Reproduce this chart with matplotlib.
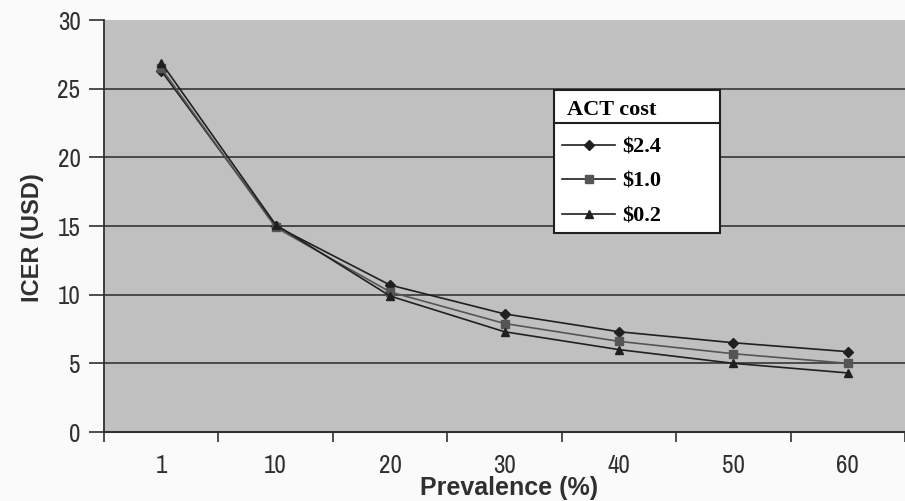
import matplotlib
matplotlib.use('Agg')
import matplotlib.pyplot as plt
from matplotlib.lines import Line2D
from matplotlib.patches import Rectangle
from matplotlib import font_manager
import numpy as np

# data
prevalence = ['1', '10', '20', '30', '40', '50', '60']
icer_24 = [26.3, 15.0, 10.7, 8.6, 7.3, 6.5, 5.85]
icer_10 = [26.5, 14.9, 10.2, 7.9, 6.6, 5.7, 5.0]
icer_02 = [26.9, 15.1, 9.9, 7.3, 6.0, 5.0, 4.3]
series_labels = ['$2.4', '$1.0', '$0.2']

names = sorted({f.name for f in font_manager.fontManager.ttflist})
narrow = [n for n in names if 'Narrow' in n or 'Condensed' in n]
tick_font = narrow[:1] + ['DejaVu Sans']
sans_font = ['Liberation Sans', 'DejaVu Sans']
serif_font = ['Liberation Serif', 'DejaVu Serif']
ink = '#303030'

W, H = 905, 501
fig = plt.figure(figsize=(W / 100, H / 100), dpi=100, facecolor='#fafafa')
ax = fig.add_axes([104 / W, 1 - 432 / H, 801 / W, 412 / H])
ax.set_facecolor('#c0c0c0')

x = np.arange(len(prevalence))
ax.plot(x, icer_24, color='#202020', lw=1.2, marker='D', ms=5, mfc='#202020', mec='#202020', label=series_labels[0])
ax.plot(x, icer_10, color='#555555', lw=1.2, marker='s', ms=6, mfc='#555555', mec='#555555', label=series_labels[1])
ax.plot(x, icer_02, color='#202020', lw=1.2, marker='^', ms=6, mfc='#202020', mec='#202020', label=series_labels[2])

ax.set_ylim(0, 30)
ax.set_xlim(-0.5, (W - 104) / 116.3 - 0.5)
ax.set_yticks(np.arange(0, 31, 5))
for yv in range(5, 30, 5):
    ax.axhline(yv, color='#404040', lw=1.3, zorder=0.5)

# category ticks between categories, labels centred
ax.set_xticks(np.arange(-0.5, 7, 1))
ax.set_xticklabels([])
ax.set_xticks(x, minor=True)
ax.set_xticklabels(prevalence, minor=True, family=tick_font, stretch='condensed', fontsize=18, color=ink)
ax.tick_params(axis='x', which='minor', length=0, pad=16)
ax.tick_params(axis='x', which='major', length=7, width=1.2, direction='out', color=ink)
ax.tick_params(axis='y', length=11, width=1.2, direction='out', color=ink, pad=6)
for lab in ax.get_yticklabels():
    lab.set_family(tick_font)
    lab.set_stretch('condensed')
    lab.set_fontsize(18)
    lab.set_color(ink)

for s in ['top', 'right']:
    ax.spines[s].set_visible(False)
ax.spines['left'].set_color(ink)
ax.spines['bottom'].set_color(ink)
ax.spines['left'].set_linewidth(1.3)
ax.spines['bottom'].set_linewidth(1.5)

fig.text(33 / W, 1 - 238 / H, 'ICER (USD)', rotation=90, ha='center', va='center',
         fontsize=17, fontweight='bold', family=sans_font, color=ink)
fig.text(509 / W, 1 - 495 / H, 'Prevalence (%)', ha='center', va='baseline', fontsize=18,
         fontweight='bold', family=sans_font, color=ink)

leg = ax.legend(title='ACT cost', loc='upper left',
                bbox_to_anchor=(558 / W, 1 - 96 / H), bbox_transform=fig.transFigure,
                prop={'family': serif_font, 'weight': 'bold', 'size': 16},
                title_fontproperties={'family': serif_font, 'weight': 'bold', 'size': 16},
                frameon=False, handlelength=2.35, handletextpad=0.36,
                borderpad=0.2, borderaxespad=0, labelspacing=0.62)
for h in leg.legend_handles:
    h.set_color('#202020')
leg._legend_box.sep = 12
leg.set_zorder(5)

# legend box drawn separately: it is wider than its entries
ax.add_artist(Rectangle((554 / W, 1 - 233 / H), 166 / W, 143 / H, transform=fig.transFigure,
                        facecolor='white', edgecolor='#202020', lw=1.5, zorder=4, clip_on=False))
ax.add_artist(Line2D([554 / W, 720 / W], [1 - 123 / H, 1 - 123 / H],
                     color='#202020', lw=1.5, transform=fig.transFigure, zorder=6, clip_on=False))

plt.savefig('out.png', dpi=100, facecolor=fig.get_facecolor())
plt.close()
